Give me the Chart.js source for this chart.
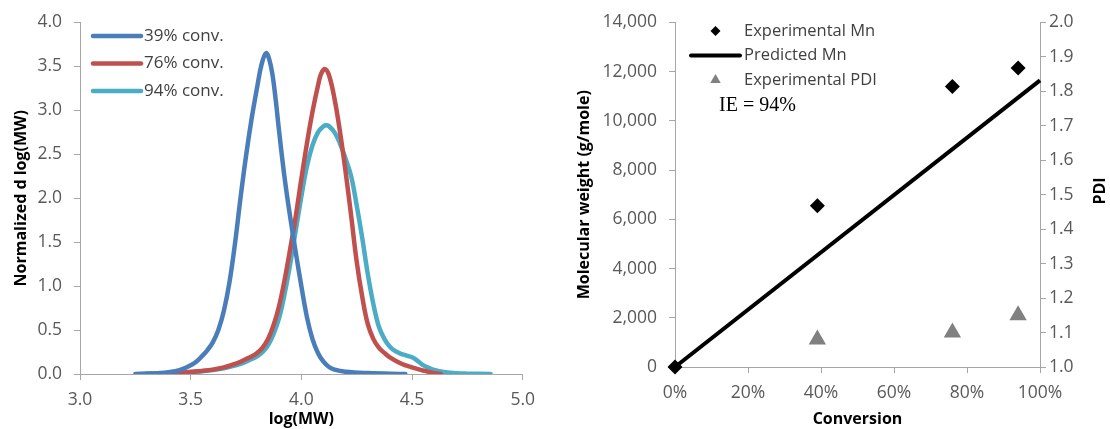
<!DOCTYPE html>
<html>
<head>
<meta charset="utf-8">
<script src="https://cdn.jsdelivr.net/npm/chart.js@4"></script>
<style>
  body { margin: 0; background: #fff; }
  canvas { position: absolute; top: 0; }
  #gpcChart { left: 0; }
  #mnChart { left: 555px; }
</style>
</head>
<body>
<canvas id="gpcChart" width="545" height="429"></canvas>
<canvas id="mnChart" width="555" height="429"></canvas>
<script>
// GPC traces
let logMW39 = [3.25, 3.30, 3.35, 3.40, 3.45, 3.50, 3.525, 3.55, 3.575, 3.60, 3.625, 3.65, 3.675, 3.70, 3.725, 3.75, 3.775, 3.80, 3.82, 3.84, 3.855, 3.87, 3.885, 3.90, 3.925, 3.95, 3.975, 4.00, 4.025, 4.05, 4.075, 4.10, 4.125, 4.15, 4.20, 4.30, 4.47]
let dlog39 = [0, 0.005, 0.01, 0.02, 0.045, 0.1, 0.14, 0.2, 0.27, 0.36, 0.5, 0.72, 1.04, 1.48, 2.0, 2.48, 2.9, 3.26, 3.52, 3.65, 3.58, 3.4, 3.1, 2.75, 2.22, 1.78, 1.38, 1.0, 0.65, 0.4, 0.24, 0.14, 0.08, 0.05, 0.025, 0.01, 0]

let logMW76 = [3.30, 3.35, 3.40, 3.45, 3.50, 3.55, 3.60, 3.65, 3.70, 3.725, 3.75, 3.775, 3.80, 3.825, 3.85, 3.875, 3.90, 3.925, 3.95, 3.975, 4.00, 4.025, 4.05, 4.075, 4.09, 4.107, 4.125, 4.15, 4.175, 4.20, 4.225, 4.25, 4.275, 4.30, 4.325, 4.35, 4.375, 4.40, 4.45, 4.50, 4.55, 4.60, 4.63]
let dlog76 = [0, 0.005, 0.01, 0.015, 0.025, 0.035, 0.05, 0.075, 0.115, 0.14, 0.17, 0.2, 0.24, 0.3, 0.4, 0.56, 0.78, 1.08, 1.43, 1.8, 2.22, 2.62, 2.98, 3.28, 3.42, 3.47, 3.4, 3.13, 2.75, 2.3, 1.8, 1.28, 0.88, 0.57, 0.4, 0.3, 0.24, 0.19, 0.12, 0.075, 0.04, 0.01, 0]

let logMW94 = [3.30, 3.35, 3.40, 3.45, 3.50, 3.55, 3.60, 3.65, 3.70, 3.725, 3.75, 3.775, 3.80, 3.825, 3.85, 3.875, 3.90, 3.925, 3.95, 3.975, 4.00, 4.025, 4.05, 4.075, 4.10, 4.114, 4.125, 4.15, 4.175, 4.20, 4.225, 4.25, 4.275, 4.30, 4.325, 4.35, 4.375, 4.40, 4.425, 4.45, 4.475, 4.50, 4.525, 4.55, 4.575, 4.60, 4.65, 4.70, 4.75, 4.855]
let dlog94 = [0, 0.004, 0.008, 0.012, 0.02, 0.03, 0.045, 0.065, 0.095, 0.115, 0.14, 0.17, 0.2, 0.25, 0.33, 0.46, 0.64, 0.92, 1.26, 1.64, 2.02, 2.36, 2.6, 2.75, 2.82, 2.83, 2.82, 2.75, 2.62, 2.45, 2.25, 1.92, 1.55, 1.14, 0.8, 0.54, 0.4, 0.31, 0.26, 0.23, 0.21, 0.19, 0.15, 0.1, 0.07, 0.045, 0.02, 0.008, 0.004, 0]

// Mn / PDI vs conversion
let expConv = [0, 0.39, 0.76, 0.94]
let expMn = [0, 6550, 11400, 12150]
let predConv = [0, 1.0]
let predMn = [0, 11650]
let pdiConv = [0.39, 0.76, 0.94]
let pdiValues = [1.08, 1.10, 1.15]

function pairs(xs, ys) {
    return xs.map((x, i) => ({ x: x, y: ys[i] }))
}

const tickColor = '#595959'
const axisColor = '#a6a6a6'
const tickFont = { family: 'Open Sans', size: 17.5 }
const titleFont = { family: 'Open Sans', size: 16, weight: 'bold' }

// legend drawn inside the plot area, Excel style
const insideLegend = {
    id: 'insideLegend',
    afterDraw(chart, args, opts) {
        const ctx = chart.ctx
        ctx.save()
        ctx.font = opts.fontSize + 'px "Open Sans"'
        ctx.textBaseline = 'middle'
        ctx.fillStyle = '#404040'
        chart.data.datasets.forEach((ds, i) => {
            const y = opts.y + i * opts.gap
            const mid = opts.x + opts.lineLen / 2
            if (chart.config.type === 'line' || ds.showLine) {
                ctx.strokeStyle = ds.borderColor
                ctx.lineWidth = ds.borderWidth
                ctx.lineCap = 'round'
                ctx.beginPath()
                ctx.moveTo(opts.x, y)
                ctx.lineTo(opts.x + opts.lineLen, y)
                ctx.stroke()
            } else if (ds.pointStyle === 'rectRot') {
                const r = opts.markSize
                ctx.fillStyle = ds.backgroundColor
                ctx.beginPath()
                ctx.moveTo(mid - r, y); ctx.lineTo(mid, y - r); ctx.lineTo(mid + r, y); ctx.lineTo(mid, y + r)
                ctx.closePath()
                ctx.fill()
            } else {
                const r = opts.markSize + 1
                ctx.fillStyle = ds.backgroundColor
                ctx.beginPath()
                ctx.moveTo(mid, y - r); ctx.lineTo(mid + r * 0.87, y + r * 0.5); ctx.lineTo(mid - r * 0.87, y + r * 0.5)
                ctx.closePath()
                ctx.fill()
            }
            ctx.fillStyle = '#404040'
            ctx.fillText(ds.label, opts.x + opts.lineLen + opts.textGap, y)
        })
        ;(opts.extra || []).forEach(t => {
            ctx.font = t.font
            ctx.fillStyle = t.color
            ctx.textAlign = 'left'
            if (t.rotate) {
                ctx.save()
                ctx.translate(t.x, t.y)
                ctx.rotate(t.rotate)
                ctx.textAlign = 'center'
                ctx.fillText(t.text, 0, 0)
                ctx.restore()
            } else {
                ctx.fillText(t.text, t.x, t.y)
            }
        })
        ctx.restore()
    }
}

function axisStyle() {
    return {
        grid: { display: true, drawOnChartArea: false, drawTicks: true, tickLength: 6, color: axisColor },
        border: { display: true, color: axisColor, width: 1 }
    }
}

let gpcChart = new Chart(document.getElementById('gpcChart'), {
    type: 'line',
    data: {
        datasets: [
            { label: '39% conv.', data: pairs(logMW39, dlog39), borderColor: '#4a7ebb', borderWidth: 4.5 },
            { label: '76% conv.', data: pairs(logMW76, dlog76), borderColor: '#c0504d', borderWidth: 4.5 },
            { label: '94% conv.', data: pairs(logMW94, dlog94), borderColor: '#4bacc6', borderWidth: 4.5 }
        ]
    },
    options: {
        responsive: false,
        animation: false,
        elements: {
            line: { tension: 0.4, fill: false, borderCapStyle: 'round', borderJoinStyle: 'round' },
            point: { radius: 0 }
        },
        layout: { padding: { top: 22, right: 19, left: 0, bottom: 0 } },
        scales: {
            x: {
                type: 'linear', min: 3, max: 5,
                ...axisStyle(),
                ticks: { stepSize: 0.5, color: tickColor, font: tickFont, padding: 10, callback: v => v.toFixed(1) },
                title: { display: true, text: 'log(MW)', color: '#000', font: titleFont, padding: { top: 0, bottom: 0 } },
                afterFit: s => { s.height = 55 }
            },
            y: {
                min: 0, max: 4,
                ...axisStyle(),
                ticks: { stepSize: 0.5, color: tickColor, font: tickFont, padding: 12, callback: v => v.toFixed(1) },
                title: { display: true, text: 'Normalized d log(MW)', color: '#000', font: titleFont, padding: { top: 12, bottom: 0 } },
                afterFit: s => { s.width = 80 }
            }
        },
        plugins: {
            legend: { display: false },
            tooltip: { enabled: false },
            insideLegend: { x: 93, y: 36, gap: 27.5, lineLen: 48, textGap: 3, fontSize: 17 }
        }
    },
    plugins: [insideLegend]
});

let mnChart = new Chart(document.getElementById('mnChart'), {
    type: 'scatter',
    data: {
        datasets: [
            {
                label: 'Experimental Mn', data: pairs(expConv, expMn), yAxisID: 'y', clip: false, order: 0,
                pointStyle: 'rectRot', pointRadius: 7.5, backgroundColor: '#000', borderColor: '#000', borderWidth: 0
            },
            {
                label: 'Predicted Mn', data: pairs(predConv, predMn), yAxisID: 'y', showLine: true, clip: false, order: 1,
                borderColor: '#000', borderWidth: 4, pointRadius: 0
            },
            {
                label: 'Experimental PDI', data: pairs(pdiConv, pdiValues), yAxisID: 'y1', clip: false,
                pointStyle: 'triangle', pointRadius: 10, backgroundColor: '#808080', borderColor: '#808080', borderWidth: 0
            }
        ]
    },
    options: {
        responsive: false,
        animation: false,
        layout: { padding: { top: 15, right: 0, left: 0, bottom: 0 } },
        scales: {
            x: {
                type: 'linear', min: 0, max: 1,
                ...axisStyle(),
                ticks: { stepSize: 0.2, color: tickColor, font: tickFont, padding: 10, callback: v => Math.round(v * 100) + '%' },
                title: { display: true, text: 'Conversion', color: '#000', font: titleFont, padding: { top: 0, bottom: 0 } },
                afterFit: s => { s.height = 62 }
            },
            y: {
                position: 'left', min: 0, max: 14000,
                ...axisStyle(),
                ticks: { stepSize: 2000, color: tickColor, font: tickFont, padding: 12, callback: v => v.toLocaleString('en-US') },
                title: { display: true, text: 'Molecular weight (g/mole)', color: '#000', font: titleFont, padding: { top: 20, bottom: 0 } },
                afterFit: s => { s.width = 120 }
            },
            y1: {
                position: 'right', min: 1, max: 2,
                ...axisStyle(),
                ticks: { stepSize: 0.1, color: tickColor, font: tickFont, padding: 3, callback: v => v.toFixed(1) },
                afterFit: s => { s.width = 70 }
            }
        },
        plugins: {
            legend: { display: false },
            tooltip: { enabled: false },
            insideLegend: {
                x: 136, y: 31, gap: 24.5, lineLen: 49, textGap: 4, fontSize: 16.5, markSize: 5,
                extra: [
                    { text: 'IE = 94%', x: 164, y: 106, font: '20px "Liberation Serif"', color: '#000' },
                    { text: 'PDI', x: 545, y: 191, font: 'bold 16px "Open Sans"', color: '#000', rotate: -Math.PI / 2 }
                ]
            }
        }
    },
    plugins: [insideLegend]
});
</script>
</body>
</html>
